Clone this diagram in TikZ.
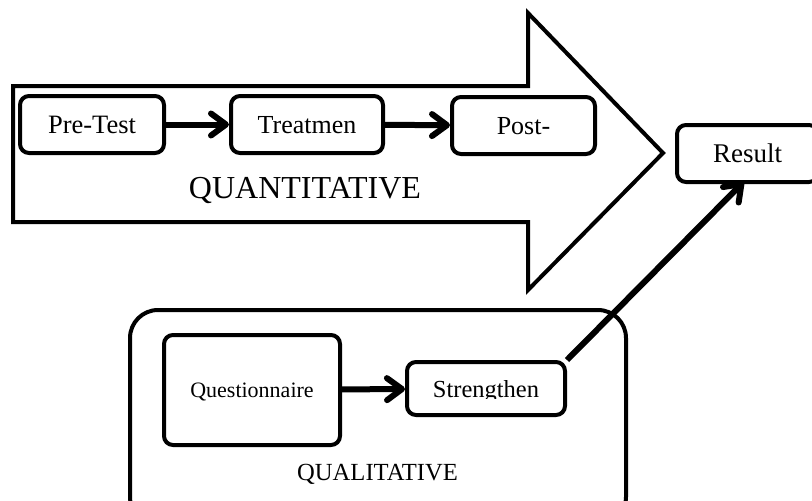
\documentclass[tikz,border=0pt]{standalone}
\usepackage{fontspec}
\setmainfont{Liberation Serif}
\usetikzlibrary{arrows.meta}
\newcommand\fsz[1]{\fontsize{#1}{#1}\selectfont}
\begin{document}
\begin{tikzpicture}[x=1pt,y=-1pt,
  box/.style={draw, line width=4pt, rounded corners=9pt, inner sep=0pt, align=center, text depth=0pt},
  conn/.style={line width=6pt, -{Straight Barb[length=15pt,width=22pt,line width=6pt,round]}},
  bigarrow/.style={draw, line width=4pt, line join=miter},
  labeltext/.style={inner sep=0pt, text depth=0pt}
]
\useasboundingbox (0,0) rectangle (812,501);
\clip (0,0) rectangle (812,501);

% big quantitative arrow
\draw[bigarrow] (13,86) -- (528,86) -- (528,13) -- (663,153) -- (528,290) -- (528,222) -- (13,222) -- cycle;

% quantitative boxes
\node[box, minimum width=144pt, minimum height=57pt, font=\fsz{26.5}] (pre) at (92,124.5) {Pre-Test};
\node[box, minimum width=152pt, minimum height=57pt, font=\fsz{26}] (treat) at (307,124.5) {Treatmen};
\node[box, minimum width=143pt, minimum height=57pt, font=\fsz{26}] (post) at (523.5,125.5) {Post-};
\node[labeltext, font=\fsz{32}] (quant) at (305,187.5) {QUANTITATIVE};

\draw[conn] (pre) -- (treat);
\draw[conn] (treat) -- (post);

% result
\node[box, minimum width=141pt, minimum height=57pt, font=\fsz{27}] (result) at (747.5,153.5) {Result};

% qualitative container
\node[draw, line width=4pt, rounded corners=28pt, minimum width=496pt, minimum height=215pt, inner sep=0pt] (qual) at (378,417.5) {};
\node[labeltext, font=\fsz{24.6}] (qualtext) at (377.5,472) {QUALITATIVE};

\node[box, minimum width=176pt, minimum height=110pt, font=\fsz{22}] (quest) at (252,390) {Questionnaire};
\node[box, minimum width=158pt, minimum height=53pt] (streng) at (486,388.5) {};
\begin{scope}
  \clip (405,360) rectangle (567,398.5);
  \node[inner sep=0pt, anchor=base, font=\fsz{24.5}] (strengtext) at (486,397) {Strengthen};
\end{scope}

\draw[conn] (quest) -- (streng);
\draw[conn] (streng.north east) -- ([xshift=-4pt,yshift=2pt]result.south);
\end{tikzpicture}
\end{document}
